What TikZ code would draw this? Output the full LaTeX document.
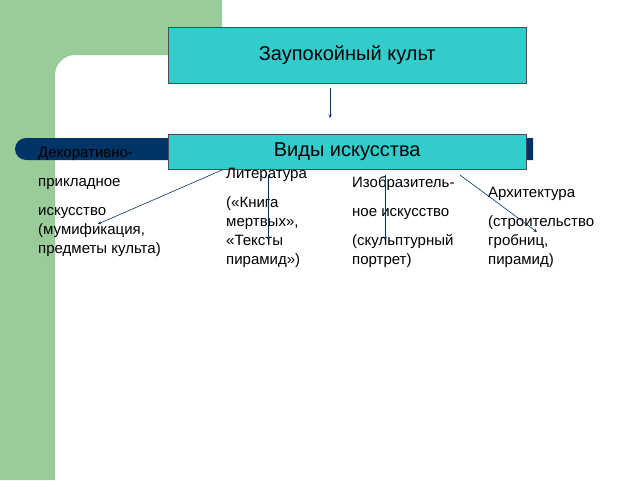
\documentclass[tikz,border=0pt]{standalone}
\usepackage{fontspec}
\setmainfont{Liberation Sans}
\definecolor{cy}{RGB}{51,204,204}
\definecolor{gr}{RGB}{153,204,153}
\definecolor{nv}{RGB}{0,51,102}
\begin{document}
\begin{tikzpicture}[x=1pt,y=-1pt,
  box/.style={draw=black!70,fill=cy,minimum width=358pt,anchor=north west,inner sep=0pt},
  lbl/.style={anchor=base west,align=left,inner sep=0pt,font=\fontsize{15}{19}\selectfont},
  arr/.style={draw=nv,-stealth,line width=0.6pt}]
\useasboundingbox (0,0) rectangle (640,480);
\fill[white] (0,0) rectangle (640,480);
\fill[gr] (0,0) -- (222,0) -- (222,55) -- (75,55) .. controls (64,55) and (55,64) .. (55,75) -- (55,480) -- (0,480) -- cycle;
\fill[nv] (533,138) -- (26,138) .. controls (20,138) and (15,143) .. (15,149) .. controls (15,155) and (20,160) .. (26,160) -- (533,160) -- cycle;
\node[box,minimum height=56pt] (cult) at (168,27) {\fontsize{20}{24}\selectfont Заупокойный культ};
\node[box,minimum height=35pt] (vid) at (168,134) {\fontsize{20}{24}\selectfont Виды искусства};
\coordinate (a1) at (222,170); \coordinate (a2) at (268,175); \coordinate (a3) at (385,175); \coordinate (a4) at (460,175);
\coordinate (c0) at (330,88);
\node[lbl] (dek) at (38,253) {Декоративно-\\[10pt]прикладное\\[10pt]искусство\\(мумификация,\\предметы культа)};
\node[lbl] (lit) at (226,264) {Литература\\[10pt](«Книга\\мертвых»,\\«Тексты\\пирамид»)};
\node[lbl] (izo) at (352,264) {Изобразитель-\\[10pt]ное искусство\\[10pt](скульптурный\\портрет)};
\node[lbl] (arh) at (488,264) {Архитектура\\[10pt](строительство\\гробниц,\\пирамид)};
\draw[arr] (c0) -- (330,118);
\draw[arr] (a1) -- (98,224);
\draw[arr] (a2) -- (268,240);
\draw[arr] (a3) -- (385,240);
\draw[arr] (a4) -- (537,232);
\end{tikzpicture}
\end{document}
